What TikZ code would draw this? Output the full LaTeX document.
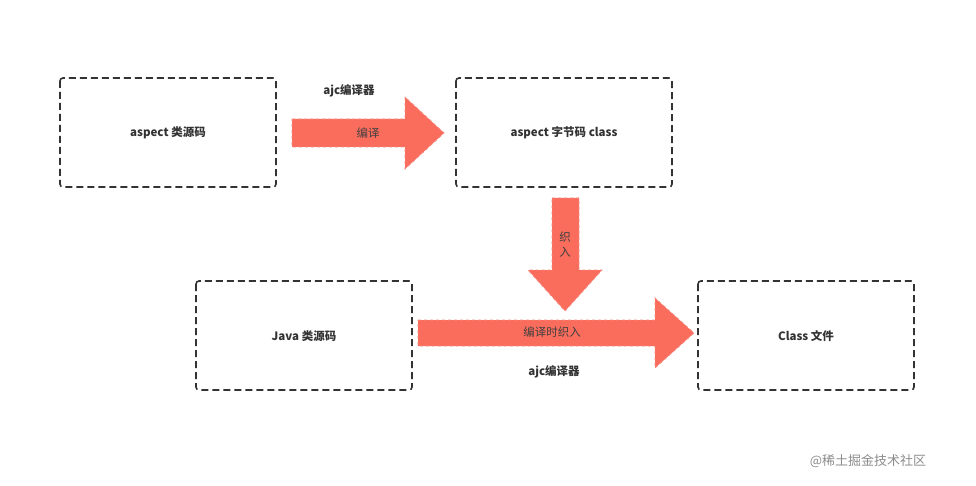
\documentclass[tikz,border=0pt]{standalone}
\usepackage{fontspec}
\setmainfont{Liberation Sans}
\newfontfamily\cjk{Noto Sans CJK SC}
\definecolor{salmon}{RGB}{250,108,92}
\definecolor{salmonedge}{RGB}{246,140,130}
\begin{document}
\begin{tikzpicture}[x=1pt,y=-1pt,
  box/.style={draw=black!80,line width=1.6pt,rounded corners=3pt,dash pattern=on 7pt off 4pt},
  barrow/.style={fill=salmon,draw=salmonedge,dashed,line width=0.9pt},
  lbl/.style={font=\cjk\bfseries\fontsize{11.5}{14}\selectfont,text=black!80},
  alb/.style={font=\cjk\fontsize{11.5}{14}\selectfont,text=black!75}]
\useasboundingbox (0,0) rectangle (976,486);
\draw[box] (60,78) rectangle (276,187);
\node[lbl] (a) at (168,133) {aspect 类源码};
\draw[box] (456,78) rectangle (672,187);
\node[lbl] (b) at (564,133) {aspect 字节码 class};
\draw[box] (196,281) rectangle (412,390);
\node[lbl] (c) at (304,336) {Java 类源码};
\draw[box] (698,281) rectangle (914,390);
\node[lbl] (d) at (806,336) {Class 文件};
\draw[barrow] (292,119)--(405,119)--(405,97)--(444,133)--(405,169)--(405,147)--(292,147)--cycle;
\draw[barrow] (552,198)--(579,198)--(579,270)--(602,270)--(565,311)--(528,270)--(552,270)--cycle;
\draw[barrow] (418,320)--(655,320)--(655,298)--(694,333)--(655,368)--(655,346)--(418,346)--cycle;
\node[lbl] (t1) at (349,91) {ajc编译器};
\node[alb] (t2) at (368,133) {编译};
\node[alb,align=center,inner sep=0pt,font=\cjk\fontsize{11.5}{15}\selectfont] (t3) at (565,245) {织\\入};
\node[alb] (t4) at (552,332) {编译时织入};
\node[lbl] (t5) at (554,372) {ajc编译器};
\node[font=\cjk\fontsize{13}{15}\selectfont,text=black!45] (w) at (868,461) {@稀土掘金技术社区};
\end{tikzpicture}
\end{document}
